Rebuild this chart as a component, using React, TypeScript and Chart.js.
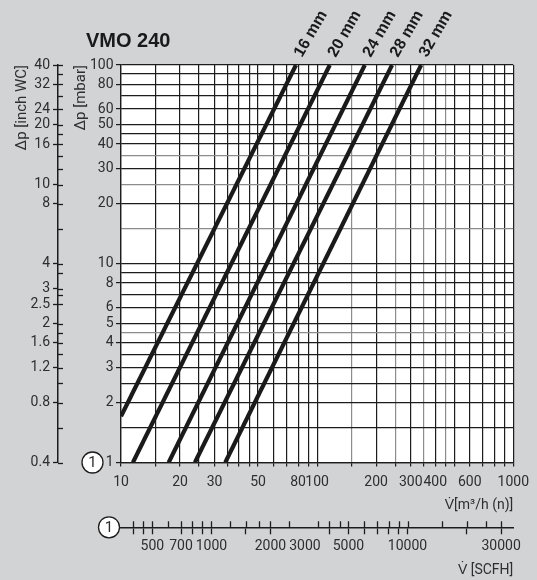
import React, { useEffect, useRef } from 'react';
import { Chart, registerables } from 'chart.js';

Chart.register(...registerables);

// ---------- data ----------
const chartTitle = 'VMO 240';
const seriesNames = ['16 mm', '20 mm', '24 mm', '28 mm', '32 mm'];
const flow16 = [10, 78];
const dp16 = [1.71, 100];
const flow20 = [11.5, 116];
const dp20 = [1, 100];
const flow24 = [17.5, 175];
const dp24 = [1, 100];
const flow28 = [23.8, 241];
const dp28 = [1, 100];
const flow32 = [34, 339];
const dp32 = [1, 100];

// m3/h (n) axis
const xMin = 10;
const xMax = 1000;
const xGrid = [10, 15, 20, 25, 30, 35, 40, 45, 50, 60, 70, 80, 90, 100, 150, 200, 250, 300, 350, 400, 450, 500, 600, 700, 800, 900, 1000];
const xLabels = [10, 20, 30, 50, 80, 100, 200, 300, 400, 600, 1000];
const xLight = [150, 250, 350, 450];

// mbar axis
const yMin = 1;
const yMax = 100;
const yGrid = [1, 1.5, 2, 2.5, 3, 3.5, 4, 4.5, 5, 6, 7, 8, 9, 10, 15, 20, 25, 30, 35, 40, 45, 50, 60, 70, 80, 90, 100];
const yLabels = [1, 2, 3, 4, 5, 6, 8, 10, 20, 30, 40, 50, 60, 80, 100];
const yLight = [4.5, 15, 25, 35];

// inch WC axis
const inchMin = 0.4;
const inchMax = 40;
const inchMajor = [0.4, 0.8, 1.2, 1.6, 2, 2.5, 3, 4, 8, 10, 16, 20, 24, 32, 40];
const inchMinor = [0.6, 1, 1.4, 1.8, 2.8, 3.6, 6, 12, 14, 18, 28, 36];

// SCFH axis
const scfhMin = 346;
const scfhMax = 34600;
const scfhMajor = [400, 450, 500, 700, 800, 900, 1000, 1500, 2000, 4000, 5000, 6000, 7000, 8000, 9000, 10000, 20000, 30000];
const scfhMinor = [600, 1250, 1750, 2500, 3500, 4500, 15000, 25000];
const scfhLabels = [500, 700, 1000, 2000, 3000, 5000, 10000, 30000];

// ---------- styling ----------
const BG = '#d2d3d5';
const INK = '#1c1c1c';
const LIGHT = '#8c8c8c';
const TXT = '#2e2e2e';
const FONT = 'Roboto, "Liberation Sans", Arial, sans-serif';
const BOLD = '"Liberation Sans", Arial, sans-serif';

const pairs = (xs: number[], ys: number[]) => xs.map((x, i) => ({ x, y: ys[i] }));
const seriesData = [pairs(flow16, dp16), pairs(flow20, dp20), pairs(flow24, dp24), pairs(flow28, dp28), pairs(flow32, dp32)];

const uniqSorted = (a: number[]) => Array.from(new Set(a)).sort((p, q) => p - q);

const decor = {
  id: 'decor',
  beforeDraw(chart: any) {
    const { ctx, chartArea: a, width, height } = chart;
    ctx.save();
    ctx.fillStyle = BG;
    ctx.fillRect(0, 0, width, height);
    ctx.fillStyle = '#ffffff';
    ctx.fillRect(a.left, a.top, a.right - a.left, a.bottom - a.top);
    ctx.restore();
  },
  afterDraw(chart: any) {
    const { ctx, scales } = chart;
    const y = scales.y;
    const y2 = scales.y2;
    const x2 = scales.x2;
    ctx.save();
    // title
    ctx.fillStyle = '#1a1a1a';
    ctx.font = `bold 20px ${BOLD}`;
    ctx.textAlign = 'left';
    ctx.textBaseline = 'alphabetic';
    ctx.fillText(chartTitle, 86, 47);

    // series labels at the top end of each line
    ctx.font = `bold 16px ${BOLD}`;
    chart.data.datasets.forEach((ds: any, i: number) => {
      const meta = chart.getDatasetMeta(i);
      const pt = meta.data[meta.data.length - 1];
      ctx.save();
      ctx.translate(pt.x + 6, chart.chartArea.top - 7);
      ctx.rotate(-Math.PI / 3);
      ctx.fillText(seriesNames[i], 0, 0);
      ctx.restore();
    });

    // inch WC axis: tick stubs on the right side of the axis line
    ctx.strokeStyle = INK;
    ctx.lineWidth = 1.3;
    const ax = y2.right;
    uniqSorted([...inchMajor, ...inchMinor]).forEach((v) => {
      const py = Math.round(y2.getPixelForValue(v)) + 0.5;
      ctx.beginPath();
      ctx.moveTo(ax, py);
      ctx.lineTo(ax + 5, py);
      ctx.stroke();
    });

    // SCFH axis: tick stubs above the axis line
    const ay = x2.top;
    uniqSorted([...scfhMajor, ...scfhMinor]).forEach((v) => {
      const px = Math.round(x2.getPixelForValue(v)) + 0.5;
      ctx.beginPath();
      ctx.moveTo(px, ay - 6);
      ctx.lineTo(px, ay);
      ctx.stroke();
    });

    // circled "1" markers
    const circ = (cx: number, cy: number) => {
      ctx.beginPath();
      ctx.arc(cx, cy, 10.5, 0, Math.PI * 2);
      ctx.fillStyle = '#ffffff';
      ctx.fill();
      ctx.lineWidth = 1.3;
      ctx.strokeStyle = INK;
      ctx.stroke();
      ctx.fillStyle = TXT;
      ctx.font = `15px ${FONT}`;
      ctx.textAlign = 'center';
      ctx.textBaseline = 'middle';
      ctx.fillText('1', cx, cy + 1);
    };
    circ(92.5, y.getPixelForValue(yMin));
    circ(109, ay);
    ctx.restore();
  },
};

export default function App() {
  const ref = useRef<HTMLCanvasElement>(null);
  useEffect(() => {
    const tickFont = { family: FONT, size: 14 };
    const chart = new Chart(ref.current as HTMLCanvasElement, {
      type: 'line',
      data: {
        datasets: seriesData.map((d, i) => ({
          label: seriesNames[i],
          data: d,
          borderColor: '#1a1a1a',
          borderWidth: 4.2,
          pointRadius: 0,
          tension: 0,
          borderCapStyle: 'butt' as const,
        })),
      },
      options: {
        responsive: false,
        animation: false,
        devicePixelRatio: 1,
        parsing: false as any,
        layout: { padding: { left: 0, right: 18.5, top: 65, bottom: 0 } },
        plugins: { legend: { display: false }, tooltip: { enabled: false }, title: { display: false } },
        scales: {
          x: {
            type: 'logarithmic',
            position: 'bottom',
            weight: 0,
            min: xMin,
            max: xMax,
            afterBuildTicks: (s: any) => { s.ticks = xGrid.map((v) => ({ value: v })); },
            afterFit: (s: any) => { s.height = 64.8; },
            ticks: {
              autoSkip: false, maxRotation: 0, minRotation: 0, padding: 8, color: TXT, font: tickFont,
              callback: (v: any) => (xLabels.includes(Number(v)) ? String(v) : ''),
            },
            grid: {
              color: (c: any) => (xLight.includes(c.tick?.value) ? LIGHT : INK),
              lineWidth: 1.2, tickLength: 4, tickColor: INK, tickWidth: 1.2,
            },
            border: { display: true, color: INK, width: 1.3 },
            title: { display: true, text: 'V\u0307[m\u00b3/h (n)]', align: 'end', color: TXT, font: tickFont, padding: { top: 0, bottom: 13 } },
          },
          x2: {
            type: 'logarithmic',
            position: 'bottom',
            weight: 1,
            min: scfhMin,
            max: scfhMax,
            afterBuildTicks: (s: any) => { s.ticks = uniqSorted([...scfhMajor, ...scfhMinor, ...scfhLabels]).map((v) => ({ value: v })); },
            afterFit: (s: any) => { s.height = 52.7; },
            ticks: {
              autoSkip: false, maxRotation: 0, minRotation: 0, padding: 4, color: TXT, font: tickFont,
              callback: (v: any) => (scfhLabels.includes(Number(v)) ? String(v) : ''),
            },
            grid: {
              drawOnChartArea: false, tickLength: 7, tickWidth: 1.3,
              tickColor: (c: any) => (scfhMajor.includes(c.tick?.value) ? INK : 'rgba(0,0,0,0)'),
            },
            border: { display: true, color: INK, width: 1.5 },
            title: { display: true, text: 'V\u0307 [SCFH]', align: 'end', color: TXT, font: tickFont, padding: { top: 0, bottom: 1.6 } },
          },
          y: {
            type: 'logarithmic',
            position: 'left',
            weight: 0,
            min: yMin,
            max: yMax,
            afterBuildTicks: (s: any) => { s.ticks = yGrid.map((v) => ({ value: v })); },
            afterFit: (s: any) => { s.width = 63; },
            ticks: {
              autoSkip: false, padding: 2.5, color: TXT, font: tickFont,
              callback: (v: any) => (yLabels.includes(Number(v)) ? String(v) : ''),
            },
            grid: {
              color: (c: any) => (yLight.includes(c.tick?.value) ? LIGHT : INK),
              lineWidth: 1.2, tickLength: 5, tickWidth: 1.2,
              tickColor: (c: any) => (yLabels.includes(c.tick?.value) ? INK : 'rgba(0,0,0,0)'),
            },
            border: { display: true, color: INK, width: 1.3 },
            title: { display: true, text: '\u0394p [mbar]', align: 'end', color: TXT, font: { family: FONT, size: 15 }, padding: { top: 14, bottom: 0 } },
          },
          y2: {
            type: 'logarithmic',
            position: 'left',
            weight: 1,
            min: inchMin,
            max: inchMax,
            afterBuildTicks: (s: any) => { s.ticks = uniqSorted([...inchMajor, ...inchMinor]).map((v) => ({ value: v })); },
            afterFit: (s: any) => { s.width = 58; },
            ticks: {
              autoSkip: false, padding: 3, color: TXT, font: tickFont,
              callback: (v: any) => (inchMajor.includes(Number(v)) ? String(v) : ''),
            },
            grid: {
              drawOnChartArea: false, tickLength: 5, tickWidth: 1.3,
              tickColor: (c: any) => (inchMajor.includes(c.tick?.value) ? INK : 'rgba(0,0,0,0)'),
            },
            border: { display: true, color: INK, width: 1.5 },
            title: { display: true, text: '\u0394p [inch WC]', align: 'end', color: TXT, font: { family: FONT, size: 15 }, padding: { top: 13, bottom: 0 } },
          },
        },
      } as any,
      plugins: [decor],
    });
    return () => chart.destroy();
  }, []);
  return (
    <div style={{ position: 'fixed', left: 0, top: 0, width: 537, height: 580 }}>
      <canvas ref={ref} width={537} height={580} style={{ width: 537, height: 580, display: 'block' }} />
    </div>
  );
}
